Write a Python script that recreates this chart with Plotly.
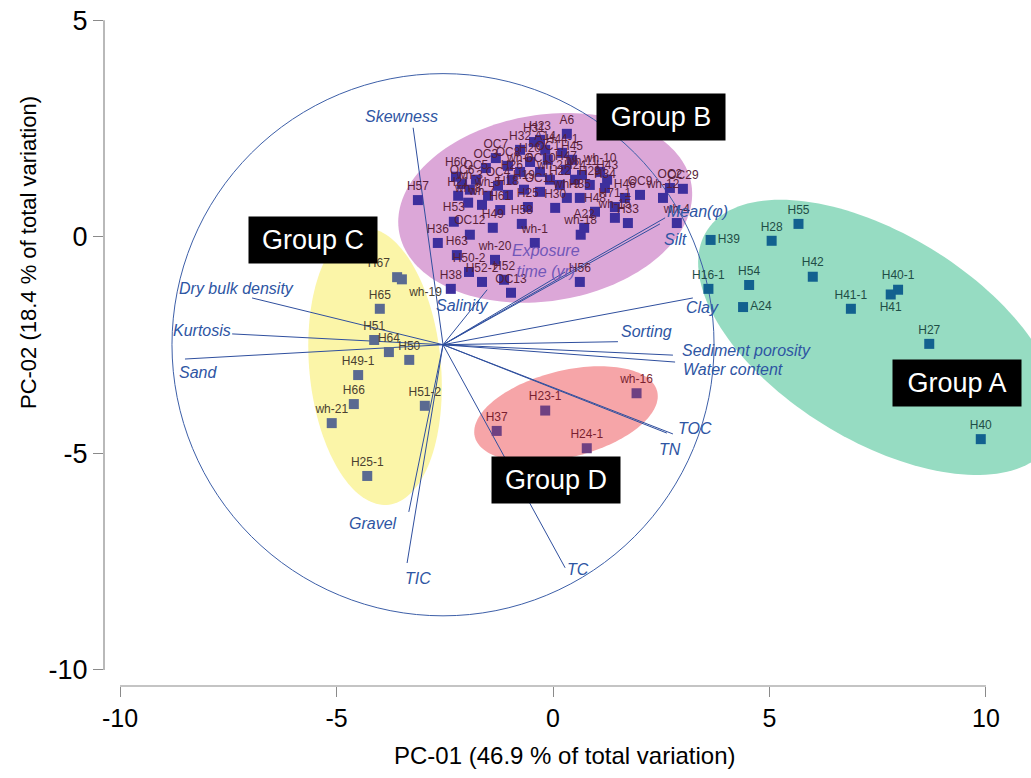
import numpy as np
import plotly.graph_objects as go

# ---------------- data ----------------
# Group A samples
a_names = ["H39", "H28", "H55", "H16-1", "H54", "A24", "H42", "H41-1", "H40-1", "H41", "H27", "H40"]
a_x = [3.64, 5.05, 5.67, 3.59, 4.53, 4.39, 6.00, 6.88, 7.97, 7.80, 8.69, 9.88]
a_y = [-0.07, -0.09, 0.30, -1.20, -1.11, -1.62, -0.92, -1.66, -1.22, -1.33, -2.47, -4.67]
a_pos = ["middle right", "top center", "top center", "top center", "top center", "middle right",
         "top center", "top center", "top center", "bottom center", "top center", "top center"]

# Group B samples
b_names = ["A6", "H31", "A14", "H44-1", "H45", "H47", "H20", "OC7", "OC8", "wh-6", "OC3", "H60",
           "OC6", "OC5", "H21", "wh-3", "wh-5", "OC4", "H26", "OC10", "wh-2", "H22", "H24", "H30",
           "OC11", "H19", "H18", "wh-7", "wh-8", "H25", "wh-9", "OC1", "H32", "H23", "wh-11", "H29",
           "H35", "H61", "wh-10", "H43", "H34", "H46", "H48", "H71-1", "wh-15", "H33", "OC9", "wh-12",
           "OC2", "OC29", "wh-4", "wh-18", "A22", "H56", "H57", "H53", "H36", "OC12", "H63", "H49",
           "H58", "wh-1", "wh-20", "H50-2", "H52-2", "H52", "H38", "OC13"]
b_x = [0.32, -0.44, -0.18, 0.21, 0.44, 0.30, -0.53, -1.32, -1.04, -0.76, -1.55, -2.24,
       -2.10, -1.78, -2.19, -1.92, -1.50, -1.27, -0.95, -0.30, -0.07, 0.16, 0.51, 0.05,
       -0.30, -0.67, -1.04, -1.64, -1.96, -0.58, 0.32, -0.12, -0.76, -0.30, 0.67, 0.85,
       0.62, -1.22, 1.09, 1.25, 1.20, 1.66, 0.97, 1.43, 1.43, 1.73, 2.01, 2.54,
       2.70, 3.00, 2.86, 0.64, 0.72, 0.62, -3.12, -2.29, -2.66, -1.92, -2.22, -1.39,
       -0.72, -0.42, -1.34, -1.94, -1.64, -1.13, -2.36, -0.97]
b_y = [2.38, 2.19, 2.01, 1.94, 1.78, 1.55, 1.73, 1.82, 1.64, 1.50, 1.59, 1.39,
       1.22, 1.32, 0.95, 1.09, 0.95, 1.18, 1.32, 1.50, 1.32, 1.20, 1.32, 0.67,
       1.04, 1.09, 0.97, 0.74, 0.79, 0.69, 0.90, 1.78, 2.01, 2.24, 1.43, 1.20,
       0.90, 0.62, 1.50, 1.32, 1.13, 0.90, 0.58, 0.69, 0.44, 0.32, 0.97, 0.90,
       1.13, 1.11, 0.32, 0.05, 0.21, -1.04, 0.85, 0.35, -0.14, 0.05, -0.42, 0.21,
       0.30, -0.14, -0.53, -0.81, -1.04, -0.99, -1.20, -1.29]

# Group C samples
c_names = ["H67", "wh-19", "H65", "H51", "H64", "H50", "H49-1", "H66", "wh-21", "H51-2", "H25-1"]
c_x = [-3.60, -3.49, -4.00, -4.13, -3.79, -3.32, -4.50, -4.60, -5.11, -2.96, -4.29]
c_y = [-0.93, -0.98, -1.66, -2.38, -2.66, -2.84, -3.19, -3.86, -4.30, -3.90, -5.52]
c_pos = ["top left", "bottom right"] + ["top center"] * 9

# Group D samples
d_names = ["wh-16", "H23-1", "H37", "H24-1"]
d_x = [1.93, -0.18, -1.30, 0.78]
d_y = [-3.61, -4.01, -4.48, -4.88]

# Biplot vectors (variable loadings), origin and tips
vec_origin = (-2.54, -2.49)
vec_names = ["Skewness", "Dry bulk density", "Kurtosis", "Sand", "Gravel", "TIC", "TC", "TN", "TOC",
             "Water content", "Sediment porosity", "Sorting", "Clay", "Silt", "Mean(φ)",
             "Exposure<br>time (yr)", "Salinity"]
vec_x = [-3.23, -6.95, -7.41, -8.50, -3.33, -3.37, 0.28, 2.63, 2.77, 2.82, 2.77, 1.50, 3.23, 2.47, 2.59, 0.28, -1.52]
vec_y = [2.52, -1.41, -2.24, -2.82, -6.35, -7.53, -7.64, -4.53, -4.55, -2.89, -2.73, -2.42, -1.41, 0.30, 0.44, -0.81, -1.22]
vlab_x = [-3.49, -7.30, -8.11, -8.20, -4.16, -3.12, 0.58, 2.70, 3.28, 4.16, 4.48, 2.17, 3.46, 2.82, 3.33, -0.17, -2.10]
vlab_y = [2.77, -1.18, -2.15, -3.12, -6.61, -7.88, -7.69, -4.92, -4.43, -3.07, -2.63, -2.19, -1.64, -0.05, 0.58, -0.55, -1.59]

circle_radius = 6.26

# Group envelopes: name, centre x, centre y, semi-major, semi-minor, angle (deg)
groups = ["Group A", "Group B", "Group C", "Group D"]
env_cx = [7.52, -0.18, -4.11, 0.30]
env_cy = [-2.32, 0.67, -2.99, -4.09]
env_a = [4.67, 3.42, 3.21, 2.17]
env_b = [2.38, 2.15, 1.52, 1.00]
env_ang = [-31.6, 9.0, 95.3, 14.0]
env_col = ["#96dcc2", "#dca7d8", "#fbf5a8", "#f6a5a8"]
box_x = [9.34, 2.49, -5.55, 0.06]
box_y = [-3.37, 2.77, -0.08, -5.61]

x_ticks = [-10, -5, 0, 5, 10]
x_ticktext = ["-10", "-5", "0", "5", "10"]
y_ticks = [-10, -5, 0, 5]
y_ticktext = ["-10", "-5", "0", "5"]

# ---------------- figure ----------------
FONT = "Liberation Sans, Arial, sans-serif"

fig = go.Figure()


def ellipse_path(cx, cy, a, b, ang):
    t = np.linspace(0, 2 * np.pi, 160)
    th = np.radians(ang)
    xs = cx + a * np.cos(t) * np.cos(th) - b * np.sin(t) * np.sin(th)
    ys = cy + a * np.cos(t) * np.sin(th) + b * np.sin(t) * np.cos(th)
    return "M " + " L ".join(f"{x:.4f},{y:.4f}" for x, y in zip(xs, ys)) + " Z"


shapes = []
for cx, cy, a, b, ang, col in zip(env_cx, env_cy, env_a, env_b, env_ang, env_col):
    shapes.append(dict(type="path", path=ellipse_path(cx, cy, a, b, ang), xref="x", yref="y",
                       fillcolor=col, line=dict(width=0), layer="below"))
ox, oy = vec_origin
shapes.append(dict(type="circle", xref="x", yref="y",
                   x0=ox - circle_radius, x1=ox + circle_radius,
                   y0=oy - circle_radius, y1=oy + circle_radius,
                   line=dict(color="#3d5fa8", width=1), layer="below"))
# detached axis lines
shapes.append(dict(type="line", xref="x", yref="paper", x0=-10, x1=10, y0=0, y1=0,
                   line=dict(color="#8a8a8a", width=1.2)))
shapes.append(dict(type="line", xref="paper", yref="y", x0=0, x1=0, y0=-10, y1=5,
                   line=dict(color="#8a8a8a", width=1.2)))

# vectors
lx, ly = [], []
for vx, vy in zip(vec_x, vec_y):
    lx += [ox, vx, None]
    ly += [oy, vy, None]
fig.add_trace(go.Scatter(x=lx, y=ly, mode="lines", line=dict(color="#2f4f9e", width=1),
                         hoverinfo="skip", showlegend=False))


def add_group(names, xs, ys, mcol, tcol, pos):
    fig.add_trace(go.Scatter(x=xs, y=ys, mode="markers+text", text=names, textposition=pos,
                             marker=dict(symbol="square", size=10, color=mcol),
                             textfont=dict(family=FONT, size=12, color=tcol),
                             showlegend=False, cliponaxis=False))


add_group(a_names, a_x, a_y, "#12618f", "#1f4d46", a_pos)
add_group(b_names, b_x, b_y, "#3d2f9d", "#5a1f38", "top center")
add_group(c_names, c_x, c_y, "#5a6a91", "#4a4030", c_pos)
add_group(d_names, d_x, d_y, "#6f4182", "#7a1f30", "top center")

annotations = []
for name, x, y in zip(vec_names, vlab_x, vlab_y):
    col = "#7257b8" if name.startswith("Exposure") else "#2e55a3"
    annotations.append(dict(x=x, y=y, xref="x", yref="y", text=name, showarrow=False,
                            font=dict(family=FONT, size=16, color=col, style="italic")))
for g, x, y in zip(groups, box_x, box_y):
    annotations.append(dict(x=x, y=y, xref="x", yref="y", text=g, showarrow=False,
                            bgcolor="black", width=126, height=44, borderpad=1,
                            font=dict(family=FONT, size=27, color="white")))
annotations.append(dict(x=0.28, y=-0.1006, xref="x", yref="paper", showarrow=False,
                        xanchor="center", yanchor="middle",
                        text="PC-01 (46.9 % of total variation)",
                        font=dict(family=FONT, size=24, color="black")))
annotations.append(dict(x=-0.082, y=-0.35, xref="paper", yref="y", showarrow=False, textangle=-90,
                        xanchor="center", yanchor="middle",
                        text="PC-02 (18.4 % of total variation)",
                        font=dict(family=FONT, size=22, color="black")))

fig.update_layout(
    width=1031, height=778,
    margin=dict(l=104, r=0, t=0, b=92),
    paper_bgcolor="white", plot_bgcolor="white",
    shapes=shapes, annotations=annotations,
    xaxis=dict(range=[-10.37, 11.04], tickvals=x_ticks, ticktext=x_ticktext, ticks="outside",
               ticklen=10, tickcolor="#8a8a8a", tickwidth=1.2, showgrid=False, zeroline=False,
               showline=False, tickfont=dict(family=FONT, size=25, color="black")),
    yaxis=dict(range=[-10.37, 5.47], tickvals=y_ticks, ticktext=y_ticktext, ticks="outside",
               ticklen=10, tickcolor="#8a8a8a", tickwidth=1.2, showgrid=False, zeroline=False,
               showline=False, tickfont=dict(family=FONT, size=27, color="black")),
)

fig.write_html("out.html", config={"displayModeBar": False},
               post_script="document.body.style.margin='0';")
